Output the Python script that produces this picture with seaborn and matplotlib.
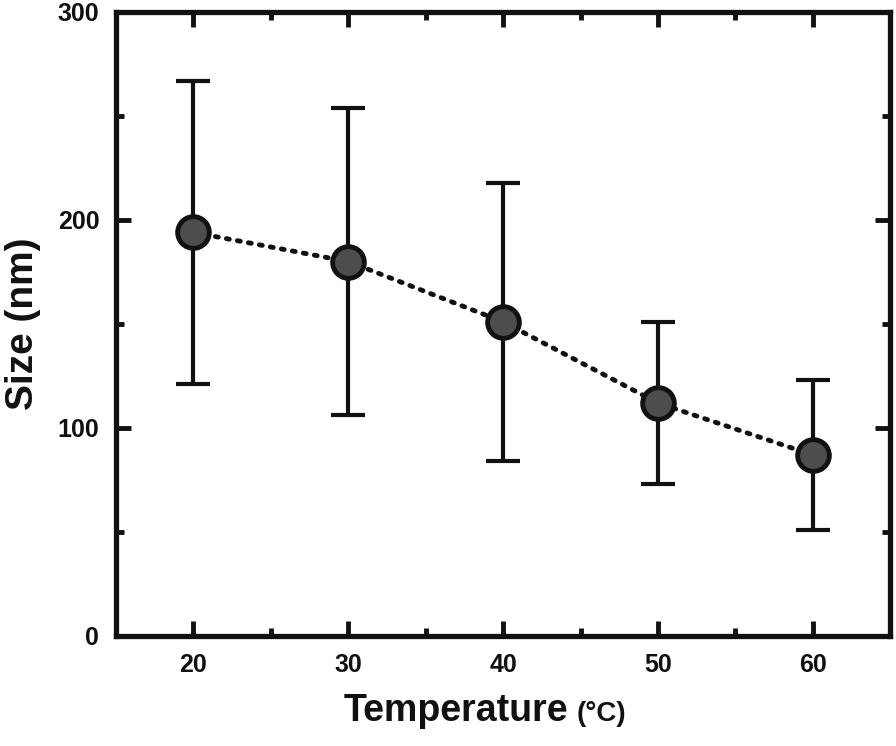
import matplotlib
matplotlib.use("Agg")
import matplotlib.pyplot as plt
from matplotlib.ticker import MultipleLocator
import seaborn as sns
import pandas as pd

# data
temperature = [20, 30, 40, 50, 60]
size_nm = [194, 180, 151, 112, 87]
size_err = [73, 74, 67, 39, 36]

sns.set_style("white")
plt.rcParams['font.family'] = ['Liberation Sans', 'DejaVu Sans']
plt.rcParams['font.weight'] = 'bold'
plt.rcParams['text.color'] = '#111111'

df = pd.DataFrame({'Temperature': temperature, 'Size': size_nm, 'err': size_err})

fig = plt.figure(figsize=(8.96, 7.46), dpi=100)
ax = fig.add_axes([0.1295, 0.1475, 0.864, 0.8365])

ax.errorbar(df['Temperature'], df['Size'], yerr=df['err'], fmt='none',
            ecolor='#111111', elinewidth=3, capsize=12, capthick=3, zorder=2)
sns.lineplot(data=df, x='Temperature', y='Size', ax=ax, color='#111111',
             linewidth=3.5, linestyle=(0, (0.6, 1.7)), zorder=3)
plt.setp(ax.lines[-1], dash_capstyle='round')
sns.scatterplot(data=df, x='Temperature', y='Size', ax=ax, s=520,
                color='#4d4d4d', edgecolor='#111111', linewidth=3.5, zorder=4)

ax.set_xlim(15, 65)
ax.set_ylim(0, 300)
ax.xaxis.set_major_locator(MultipleLocator(10))
ax.xaxis.set_minor_locator(MultipleLocator(5))
ax.yaxis.set_major_locator(MultipleLocator(100))
ax.yaxis.set_minor_locator(MultipleLocator(50))
ax.tick_params(which='both', direction='in', top=True, right=True, bottom=True, left=True,
               width=3.5, color='#111111', labelcolor='#111111', labelsize=18)
ax.tick_params(which='major', length=11)
ax.tick_params(which='minor', length=6)
ax.tick_params(axis='x', pad=12)
ax.tick_params(axis='y', pad=12)
for s in ax.spines.values():
    s.set_linewidth(3.8)
    s.set_color('#111111')

ax.set_xlabel('')
ax.set_ylabel('Size (nm)', fontsize=28, fontweight='bold', labelpad=12, color='#111111')
fig.text(0.383, 0.034, 'Temperature', fontsize=27, fontweight='bold', ha='left', va='baseline')
fig.text(0.644, 0.034, '(°C)', fontsize=20, fontweight='bold', ha='left', va='baseline')

fig.savefig('out.png', dpi=100)
